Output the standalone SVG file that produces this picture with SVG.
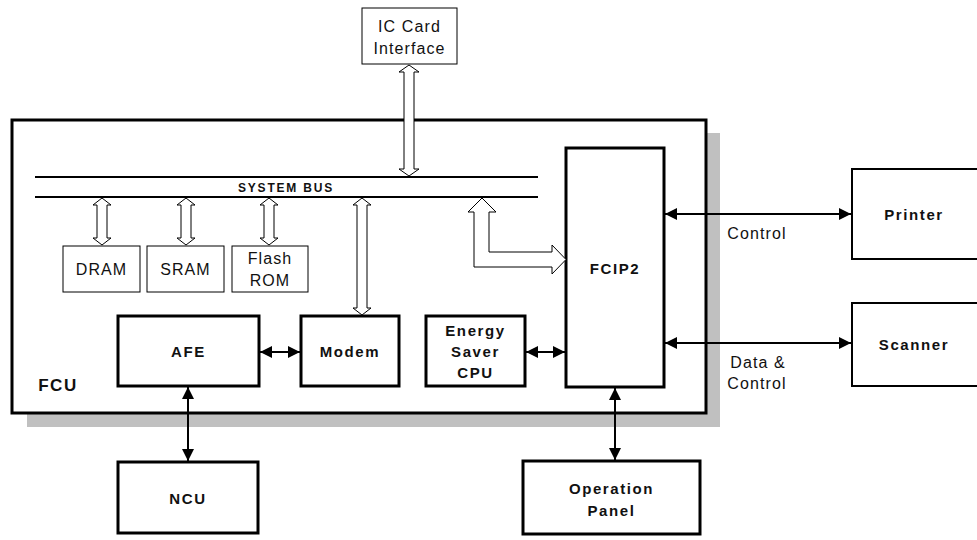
<svg xmlns="http://www.w3.org/2000/svg" width="977" height="540" viewBox="0 0 977 540">
<style>
text{font-family:"Liberation Sans",Arial,sans-serif;fill:#111;text-anchor:middle}
.b{font-weight:bold;font-size:15px;letter-spacing:1.6px}
.n{font-size:16px;letter-spacing:1.1px}
.thick{fill:#fff;stroke:#000;stroke-width:3}
.thin{fill:#fff;stroke:#000;stroke-width:1}
.hollow{fill:#fff;stroke:#000;stroke-width:1;stroke-linejoin:miter}
.line{stroke:#000;stroke-width:2;fill:none}
</style>
<defs>
<marker id="ah" viewBox="0 0 12 12" refX="12" refY="6" markerWidth="12" markerHeight="12" markerUnits="userSpaceOnUse" orient="auto-start-reverse">
<path d="M0,0 L12,6 L0,12 Z" fill="#000"/>
</marker>
</defs>
<rect width="977" height="540" fill="#fff"/>
<g id="fcu">
<rect x="27" y="133" width="693" height="294" fill="#c0c0c0"/>
<rect x="12" y="120" width="694" height="293" class="thick"/>
<text x="58" y="391" class="b" style="font-size:17px">FCU</text>
</g>
<g id="system-bus">
<line x1="35" y1="177" x2="538" y2="177" stroke="#000" stroke-width="2"/>
<line x1="35" y1="197" x2="538" y2="197" stroke="#000" stroke-width="2"/>
<text x="286" y="192" style="font-weight:bold;font-size:12px;letter-spacing:1.8px">SYSTEM BUS</text>
</g>
<g id="ic-card">
<rect x="362" y="8" width="95" height="56" class="thin"/>
<text x="409.5" y="32" class="n">IC Card</text>
<text x="409.5" y="54" class="n">Interface</text>
</g>
<g id="dram">
<rect x="63" y="246" width="77" height="46" class="thin"/>
<text x="101.5" y="275" class="n">DRAM</text>
</g>
<g id="sram">
<rect x="147" y="246" width="77" height="46" class="thin"/>
<text x="185.5" y="275" class="n">SRAM</text>
</g>
<g id="flash-rom">
<rect x="232" y="246" width="76" height="46" class="thin"/>
<text x="270" y="264" class="n">Flash</text>
<text x="270" y="286" class="n">ROM</text>
</g>
<g id="afe">
<rect x="118" y="316" width="141" height="70" class="thick"/>
<text x="188.5" y="357" class="b">AFE</text>
</g>
<g id="modem">
<rect x="301" y="316" width="98" height="70" class="thick"/>
<text x="350" y="357" class="b">Modem</text>
</g>
<g id="energy-saver">
<rect x="426" y="316" width="99" height="70" class="thick"/>
<text x="475.5" y="336" class="b">Energy</text>
<text x="475.5" y="357" class="b">Saver</text>
<text x="475.5" y="378" class="b">CPU</text>
</g>
<g id="fcip2">
<rect x="566" y="148" width="98" height="239" class="thick"/>
<text x="615" y="274" class="b">FCIP2</text>
</g>
<g id="printer">
<rect x="852" y="169" width="130" height="90" class="thin" style="stroke-width:2"/>
<text x="914" y="220" class="b">Printer</text>
</g>
<g id="scanner">
<rect x="852" y="303" width="130" height="83" class="thin" style="stroke-width:2"/>
<text x="914" y="350" class="b">Scanner</text>
</g>
<g id="ncu">
<rect x="118" y="462" width="140" height="71" class="thick"/>
<text x="188" y="504" class="b">NCU</text>
</g>
<g id="operation-panel">
<rect x="523" y="461" width="177" height="73" class="thick"/>
<text x="611.5" y="494" class="b">Operation</text>
<text x="611.5" y="516" class="b">Panel</text>
</g>
<g id="connectors">
<polygon class="hollow" points="409,65 419,72 414,72 414,169 419,169 409,176 399,169 404,169 404,72 399,72"/>
<polygon class="hollow" points="102,198 111,205 107,205 107,238 111,238 102,245 93,238 97,238 97,205 93,205"/>
<polygon class="hollow" points="186,198 195,205 191,205 191,238 195,238 186,245 177,238 181,238 181,205 177,205"/>
<polygon class="hollow" points="269,198 278,205 274,205 274,238 278,238 269,245 260,238 264,238 264,205 260,205"/>
<polygon class="hollow" points="362,198 371,205 367,205 367,308 371,308 362,315 353,308 357,308 357,205 353,205"/>
<polygon class="hollow" points="482,198 496,212 489,212 489,252 552,252 552,245 566,259.5 552,274 552,267 474,267 474,212 468,212"/>
<line class="line" x1="260" y1="352" x2="300" y2="352" marker-start="url(#ah)" marker-end="url(#ah)"/>
<line class="line" x1="526" y1="352" x2="565" y2="352" marker-start="url(#ah)" marker-end="url(#ah)"/>
<line class="line" x1="665" y1="214" x2="851" y2="214" marker-start="url(#ah)" marker-end="url(#ah)"/>
<line class="line" x1="665" y1="343" x2="851" y2="343" marker-start="url(#ah)" marker-end="url(#ah)"/>
<line class="line" x1="188" y1="387" x2="188" y2="461" marker-start="url(#ah)" marker-end="url(#ah)"/>
<line class="line" x1="615" y1="388" x2="615" y2="460" marker-start="url(#ah)" marker-end="url(#ah)"/>
<text x="757" y="239" class="n">Control</text>
<text x="758" y="368" class="n">Data &amp;</text>
<text x="757" y="389" class="n">Control</text>
</g>
</svg>
